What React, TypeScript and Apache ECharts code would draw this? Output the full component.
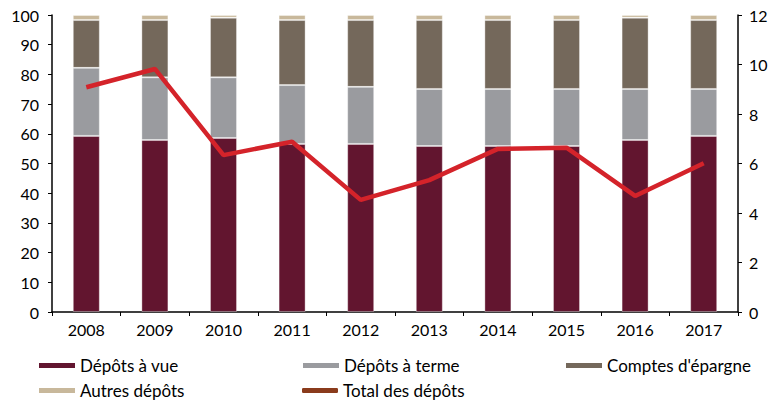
import React, { useEffect, useRef } from "react";
import * as echarts from "echarts";

const years = ["2008", "2009", "2010", "2011", "2012", "2013", "2014", "2015", "2016", "2017"];
const depotsVue = [59.3, 57.9, 58.6, 56.6, 56.6, 55.9, 55.9, 55.9, 57.9, 59.3];
const depotsTerme = [22.9, 21.1, 20.4, 19.8, 19.2, 19.2, 19.2, 19.2, 17.2, 15.8];
const comptesEpargne = [16.1, 19.3, 20.1, 21.9, 22.5, 23.2, 23.2, 23.2, 24.0, 23.2];
const autresDepots = [1.7, 1.7, 0.9, 1.7, 1.7, 1.7, 1.7, 1.7, 0.9, 1.7];
const totalDepots = [9.08, 9.82, 6.34, 6.88, 4.53, 5.33, 6.59, 6.64, 4.69, 6.01];

const FONT = "Lato, 'Open Sans', sans-serif";

export default function App() {
  const ref = useRef<HTMLDivElement>(null);
  useEffect(() => {
    if (!ref.current) return;
    const chart = echarts.init(ref.current, null, { renderer: "svg" });
    const barBorder = { borderColor: "rgba(255,255,255,0.35)", borderWidth: 1 };
    const mkLegend = (name: string, left: number, top: number, color: string, icon = "rect") => ({
      show: true,
      left,
      top,
      itemWidth: 36,
      itemHeight: 5,
      itemGap: 0,
      padding: 0,
      icon,
      textStyle: { fontFamily: FONT, fontSize: 17, color: "#000" },
      data: [{ name, icon, itemStyle: { color, borderWidth: 0 } }],
    });
    chart.setOption({
      animation: false,
      backgroundColor: "#fff",
      grid: { left: 52, right: 34, top: 15, bottom: 92, containLabel: false },
      legend: [
        mkLegend("Dépôts à vue", 39, 357, "#62152f"),
        mkLegend("Dépôts à terme", 303, 357, "#9a9b9f"),
        mkLegend("Comptes d'épargne", 566, 357, "#74685b"),
        mkLegend("Autres dépôts", 39, 382, "#c8b89b"),
        mkLegend("Total des dépôts", 302, 382, "#8a3b1c", "roundRect"),
      ],
      xAxis: {
        type: "category",
        data: years,
        axisLine: { lineStyle: { color: "#000", width: 1.5 } },
        axisTick: { show: true, inside: false, length: 4, lineStyle: { color: "#000" } },
        axisLabel: { fontFamily: FONT, fontSize: 16, color: "#000", margin: 9 },
      },
      yAxis: [
        {
          type: "value",
          min: 0,
          max: 100,
          interval: 10,
          axisLine: { show: true, lineStyle: { color: "#000", width: 1.5 } },
          axisTick: { show: true, length: 4, lineStyle: { color: "#000" } },
          splitLine: { show: false },
          axisLabel: { fontFamily: FONT, fontSize: 16, color: "#000", margin: 13 },
        },
        {
          type: "value",
          min: 0,
          max: 12,
          interval: 2,
          position: "right",
          axisLine: { show: true, lineStyle: { color: "#000", width: 1.5 } },
          axisTick: { show: true, length: 4, lineStyle: { color: "#000" } },
          splitLine: { show: false },
          axisLabel: { fontFamily: FONT, fontSize: 16, color: "#000", margin: 11 },
        },
      ],
      series: [
        { name: "Dépôts à vue", type: "bar", stack: "d", barWidth: 27, data: depotsVue, itemStyle: { color: "#62152f", ...barBorder } },
        { name: "Dépôts à terme", type: "bar", stack: "d", barWidth: 27, data: depotsTerme, itemStyle: { color: "#9a9b9f", ...barBorder } },
        { name: "Comptes d'épargne", type: "bar", stack: "d", barWidth: 27, data: comptesEpargne, itemStyle: { color: "#74685b", ...barBorder } },
        { name: "Autres dépôts", type: "bar", stack: "d", barWidth: 27, data: autresDepots, itemStyle: { color: "#c8b89b", ...barBorder } },
        {
          name: "Total des dépôts",
          type: "line",
          yAxisIndex: 1,
          data: totalDepots,
          showSymbol: false,
          symbol: "none",
          lineStyle: { color: "#d4232a", width: 4.5 },
          itemStyle: { color: "#8a3b1c" },
        },
      ],
    });
    return () => chart.dispose();
  }, []);
  return <div ref={ref} style={{ width: 772, height: 404, position: "absolute", left: 0, top: 0 }} />;
}
